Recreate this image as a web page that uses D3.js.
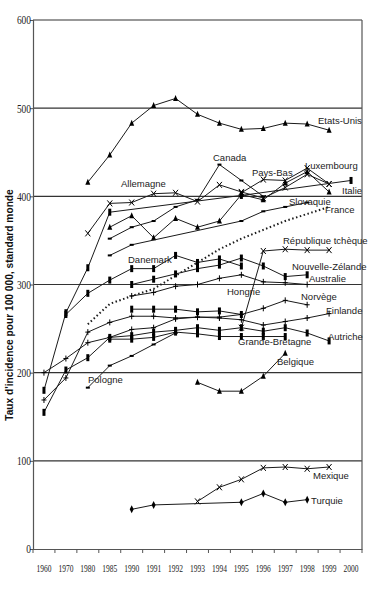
<!DOCTYPE html>
<html><head><meta charset="utf-8">
<script src="https://cdn.jsdelivr.net/npm/d3@7/dist/d3.min.js"></script>
<style>body{margin:0;background:#fff}svg{display:block}</style>
</head><body>
<script>
const N = null;
const years = ['1960','1970','1980','1985','1990','1991','1992','1993','1994','1995','1996','1997','1998','1999','2000'];
const yTicks = [0,100,200,300,400,500,600];
const etatsUnis   = [N,N,416,447,483,503,511,493,483,476,477,483,482,475,N];
const canada      = [N,N,N,352,365,372,388,396,436,418,400,N,N,N,N];
const luxembourg  = [N,N,N,365,378,353,375,365,372,402,396,415,428,405,N];
const paysBas     = [N,N,N,N,N,N,N,N,N,404,419,418,432,414,N];
const allemagne   = [N,N,358,392,393,403,404,394,413,405,398,410,425,414,N];
const italie      = [180,268,319,382,N,N,N,N,N,401,N,N,N,N,418];
const slovaquie   = [N,N,N,333,345,N,N,N,N,372,383,388,393,N,N];
const france      = [N,N,255,278,287,295,310,325,340,352,362,372,380,388,N];
const repTcheque  = [N,N,N,N,N,N,N,N,N,251,338,340,339,339,N];
const danemark    = [N,266,290,305,318,318,333,325,329,321,N,N,N,N,N];
const nzelande    = [N,N,N,N,300,306,312,318,322,330,321,309,311,N,N];
const australie   = [N,N,N,N,287,291,298,300,307,311,303,302,300,N,N];
const hongrie     = [N,N,N,N,272,272,272,269,270,266,N,N,N,N,N];
const norvege     = [200,216,234,240,249,251,261,263,263,266,273,282,277,N,N];
const finlande    = [169,194,246,257,264,264,262,263,262,260,254,258,262,267,N];
const autriche    = [155,203,217,240,242,246,248,251,248,251,247,251,245,236,N];
const gBretagne   = [N,N,N,238,238,240,246,244,241,241,241,241,N,N,N];
const pologne     = [N,N,183,208,219,232,245,N,N,N,N,N,N,N,N];
const belgique    = [N,N,N,N,N,N,N,189,179,179,196,222,N,N,N];
const mexique     = [N,N,N,N,N,N,N,54,70,79,92,93,91,93,N];
const turquie     = [N,N,N,N,45,50,N,N,N,53,63,53,56,N,N];

const series = [
 {name:'Etats-Unis', v:etatsUnis, m:'tri', lab:[318,124]},
 {name:'Canada', v:canada, m:'dash', lab:[213,161]},
 {name:'Luxembourg', v:luxembourg, m:'tri', lab:[305,169]},
 {name:'Pays-Bas', v:paysBas, m:'x', lab:[252,176]},
 {name:'Allemagne', v:allemagne, m:'x', lab:[121,187]},
 {name:'Italie', v:italie, m:'bar', lab:[342,194]},
 {name:'Slovaquie', v:slovaquie, m:'dash', lab:[289,205]},
 {name:'France', v:france, m:'none', dash:true, lab:[325,213]},
 {name:'République tchèque', v:repTcheque, m:'x', lab:[283,244]},
 {name:'Danemark', v:danemark, m:'bar', lab:[128,263]},
 {name:'Nouvelle-Zélande', v:nzelande, m:'bar', lab:[292,270]},
 {name:'Australie', v:australie, m:'plus', lab:[309,282]},
 {name:'Hongrie', v:hongrie, m:'bar', lab:[227,295]},
 {name:'Norvège', v:norvege, m:'plus', lab:[301,300]},
 {name:'Finlande', v:finlande, m:'plus', lab:[326,314]},
 {name:'Autriche', v:autriche, m:'bar', lab:[328,340]},
 {name:'Grande-Bretagne', v:gBretagne, m:'bar', lab:[238,345]},
 {name:'Pologne', v:pologne, m:'dash', lab:[88,383]},
 {name:'Belgique', v:belgique, m:'tri', lab:[277,365]},
 {name:'Mexique', v:mexique, m:'x', lab:[313,479]},
 {name:'Turquie', v:turquie, m:'dia', lab:[311,504]}
];

const W = 383, H = 600;
const svg = d3.select('body').append('svg').attr('width',W).attr('height',H);
const x = d3.scaleBand().domain(years).range([33,362]);
const y = d3.scaleLinear().domain([0,600]).range([549,20]);
const ink = '#1a1a1a';

svg.append('g').selectAll('line').data(yTicks.filter(d=>d>0)).join('line')
  .attr('x1',33).attr('x2',362).attr('y1',d=>y(d)).attr('y2',d=>y(d))
  .attr('stroke','#333').attr('stroke-width',1.2);
svg.append('line').attr('x1',362).attr('x2',362).attr('y1',y(600)).attr('y2',y(0)).attr('stroke','#555').attr('stroke-width',1.2);

const ya = svg.append('g').attr('transform','translate(33,0)')
  .call(d3.axisLeft(y).tickValues(yTicks).tickSize(3).tickFormat(d3.format('d')));
ya.select('.domain').attr('stroke','#555').attr('stroke-width',1.2);
ya.selectAll('.tick line').attr('stroke','#555');
ya.selectAll('text').attr('font-family','Liberation Serif').attr('font-size',12).attr('fill','#222')
  .attr('x',-2).each(function(d){ const s=String(d); d3.select(this).attr('textLength', s.length*4.7).attr('lengthAdjust','spacingAndGlyphs');});

const xa = svg.append('g').attr('transform','translate(0,549)')
  .call(d3.axisBottom(x).tickSize(0).tickFormat(d=>d));
xa.select('.domain').attr('stroke','#555').attr('stroke-width',1.2);
xa.selectAll('text').attr('font-family','Liberation Serif').attr('font-size',10.5).attr('fill','#222')
  .attr('y',16).attr('textLength',15).attr('lengthAdjust','spacingAndGlyphs');
svg.append('g').selectAll('line').data(years.concat(['end'])).join('line')
  .attr('x1',(d,i)=>33+i*x.step()).attr('x2',(d,i)=>33+i*x.step())
  .attr('y1',549).attr('y2',553).attr('stroke','#555');

svg.append('text').attr('transform','translate(13,305) rotate(-90)')
  .attr('text-anchor','middle').attr('font-family','Liberation Sans').attr('font-weight','bold')
  .attr('font-size',10.2).attr('fill','#111').text("Taux d'incidence pour 100 000, standard monde");

const line = d3.line().x(d=>x(d.yr)+x.bandwidth()/2).y(d=>y(d.val));
const pts = s => years.map((yr,i)=>({yr,val:s.v[i]})).filter(d=>d.val!==null);

const g = svg.append('g');
series.forEach(s=>{
  const p = pts(s);
  g.append('path').attr('d',line(p)).attr('fill','none').attr('stroke',ink)
    .attr('stroke-width', s.dash?2:1).attr('stroke-dasharray', s.dash?'1.5,2.5':null);
  const mg = g.append('g');
  p.forEach(d=>{
    const cx = x(d.yr)+x.bandwidth()/2, cy = y(d.val);
    if (s.m==='tri') mg.append('path').attr('d',`M${cx},${cy-3.5}L${cx+2.5},${cy+2.5}L${cx-2.5},${cy+2.5}Z`).attr('fill','#000');
    else if (s.m==='bar') mg.append('rect').attr('x',cx-1.5).attr('y',cy-3.5).attr('width',3).attr('height',7).attr('fill','#000');
    else if (s.m==='x') mg.append('path').attr('d',`M${cx-2.5},${cy-3}L${cx+2.5},${cy+3}M${cx+2.5},${cy-3}L${cx-2.5},${cy+3}`).attr('stroke','#000').attr('stroke-width',1);
    else if (s.m==='plus') mg.append('path').attr('d',`M${cx-2.5},${cy}H${cx+2.5}M${cx},${cy-3}V${cy+3}`).attr('stroke','#000').attr('stroke-width',1);
    else if (s.m==='dash') mg.append('rect').attr('x',cx-2).attr('y',cy-1).attr('width',4).attr('height',2).attr('fill','#000');
    else if (s.m==='dia') mg.append('path').attr('d',`M${cx},${cy-4}L${cx+2},${cy}L${cx},${cy+4}L${cx-2},${cy}Z`).attr('fill','#000');
  });
  g.append('text').attr('x',s.lab[0]).attr('y',s.lab[1]).attr('font-family','Liberation Sans')
    .attr('font-size',9.5).attr('fill','#222').text(s.name);
});
</script>
</body></html>
